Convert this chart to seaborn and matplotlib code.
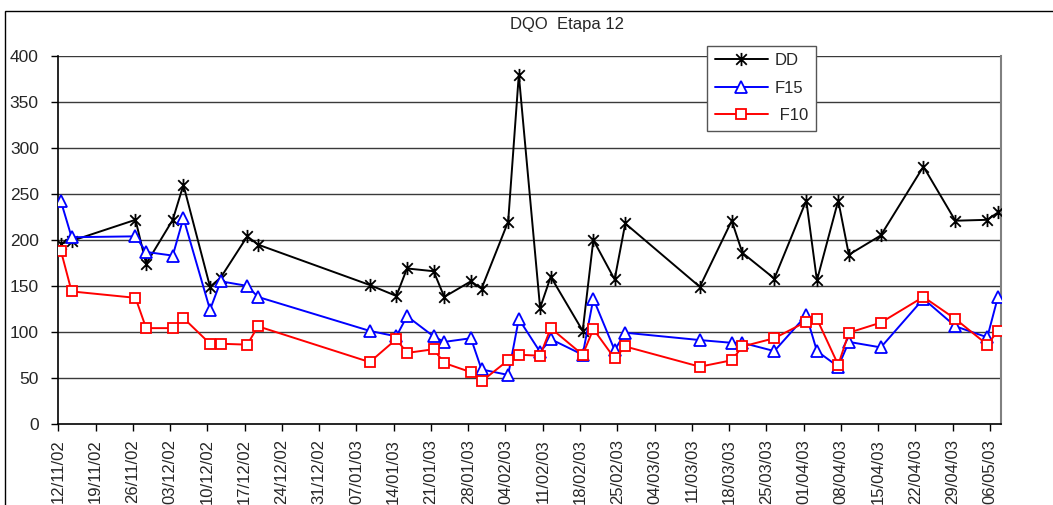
import matplotlib
matplotlib.use("Agg")
import matplotlib.pyplot as plt
import matplotlib.dates as mdates
from matplotlib.path import Path
from matplotlib.patches import Rectangle
import numpy as np
import pandas as pd
import seaborn as sns

# Sampling dates (Etapa 12)
fechas = [
    "2002-11-12", "2002-11-14", "2002-11-26", "2002-11-28", "2002-12-03",
    "2002-12-05", "2002-12-10", "2002-12-12", "2002-12-17", "2002-12-19",
    "2003-01-09", "2003-01-14", "2003-01-16", "2003-01-21", "2003-01-23",
    "2003-01-28", "2003-01-30", "2003-02-04", "2003-02-06", "2003-02-10",
    "2003-02-12", "2003-02-18", "2003-02-20", "2003-02-24", "2003-02-26",
    "2003-03-12", "2003-03-18", "2003-03-20", "2003-03-26", "2003-04-01",
    "2003-04-03", "2003-04-07", "2003-04-09", "2003-04-15", "2003-04-23",
    "2003-04-29", "2003-05-05", "2003-05-07",
]

# DQO values per stream
dd = [196, 199, 222, 174, 222, 260, 149, 159, 204, 195,
      151, 139, 169, 166, 138, 155, 147, 220, 380, 126,
      160, 101, 200, 157, 218, 149, 221, 186, 158, 243,
      156, 243, 184, 205, 280, 221, 222, 230]
f15 = [242, 203, 204, 187, 183, 224, 124, 155, 150, 138,
       101, 95, 117, 95, 89, 93, 59, 53, 114, 78,
       92, 75, 136, 80, 99, 91, 88, 88, 79, 118,
       79, 62, 89, 83, 136, 106, 94, 138]
f10 = [188, 144, 137, 104, 104, 115, 87, 87, 86, 106,
       67, 92, 77, 81, 66, 56, 46, 69, 75, 74,
       104, 75, 103, 71, 84, 62, 69, 84, 93, 111,
       114, 64, 99, 110, 138, 114, 86, 101]

titulo = "DQO  Etapa 12"
y_ticks = [0, 50, 100, 150, 200, 250, 300, 350, 400]

df = pd.DataFrame({"fecha": pd.to_datetime(fechas), "DD": dd, "F15": f15, "F10": f10})
# each sample sits in the middle of its day slot
df["pos"] = df["fecha"] + pd.Timedelta(hours=12)

sns.set_style("white")
plt.rcParams["font.family"] = ["Liberation Sans", "DejaVu Sans"]

W, H = 1053, 505
fig = plt.figure(figsize=(W / 100, H / 100), dpi=100)
ax = fig.add_axes([58.3 / W, 1 - 423.6 / H, (1000.6 - 58.3) / W, (423.6 - 56.4) / H])

# six-armed star: an x with a vertical bar
star = Path(
    [(-1, -1), (1, 1), (-1, 1), (1, -1), (0, -1.25), (0, 1.25)],
    [Path.MOVETO, Path.LINETO, Path.MOVETO, Path.LINETO, Path.MOVETO, Path.LINETO],
)

series = [
    ("DD", "DD", "black", star, 9.5, 1.3),
    ("F15", "F15", "#0000FF", "^", 8, 1.3),
    ("F10", " F10", "#FF0000", "s", 7.5, 1.3),
]
for col, lab, color, mk, ms, mew in series:
    sns.lineplot(
        data=df, x="pos", y=col, ax=ax, color=color, label=lab,
        linewidth=1.4, marker=mk, markersize=ms, markeredgewidth=mew,
        markerfacecolor="white" if mk is not star else color,
        markeredgecolor=color, sort=False, estimator=None, zorder=3,
    )

ax.set_xlim(pd.Timestamp("2002-11-12"), pd.Timestamp("2003-05-08"))
ax.set_ylim(0, 400)
ax.set_yticks(y_ticks)
week_ticks = pd.date_range("2002-11-12", "2003-05-06", freq="7D")
ax.set_xticks(week_ticks)
ax.xaxis.set_major_formatter(mdates.DateFormatter("%d/%m/%y"))
ax.set_xlabel("")
ax.set_ylabel("")

for y in y_ticks[1:]:
    ax.axhline(y, color="#3a3a3a", linewidth=1.0, zorder=1)

ax.tick_params(axis="y", direction="out", length=5, width=1, color="black",
               pad=9, labelsize=12.5, left=True)
ax.tick_params(axis="x", direction="out", length=5, width=1, color="black",
               pad=6, labelsize=12, bottom=True, labelrotation=90)
for lbl in ax.get_xticklabels():
    lbl.set_horizontalalignment("center")

for side in ["left", "bottom"]:
    ax.spines[side].set_color("black")
    ax.spines[side].set_linewidth(1.2)
ax.spines["top"].set_visible(False)
ax.spines["right"].set_color("#808080")
ax.spines["right"].set_linewidth(1.5)

leg = ax.legend(
    loc="upper left", bbox_to_anchor=(707.3 / W, 1 - 45.7 / H),
    bbox_transform=fig.transFigure, borderaxespad=0, fancybox=False,
    frameon=True, framealpha=1, edgecolor="#555555", fontsize=12,
    handlelength=3.2, handletextpad=0.4, labelspacing=0.75, borderpad=0.45,
    markerscale=1.0,
)
leg.get_frame().set_linewidth(1.0)
leg.set_zorder(5)

fig.text(567 / W, 1 - 25 / H, titulo, ha="center", va="center", fontsize=12)

# outer chart frame
fig.patches.append(Rectangle((5.3 / W, -0.1), 1.2, 1 - 10.7 / H + 0.1,
                             transform=fig.transFigure, fill=False,
                             edgecolor="black", linewidth=1.0, clip_on=False))

fig.savefig("out.png", dpi=100)
